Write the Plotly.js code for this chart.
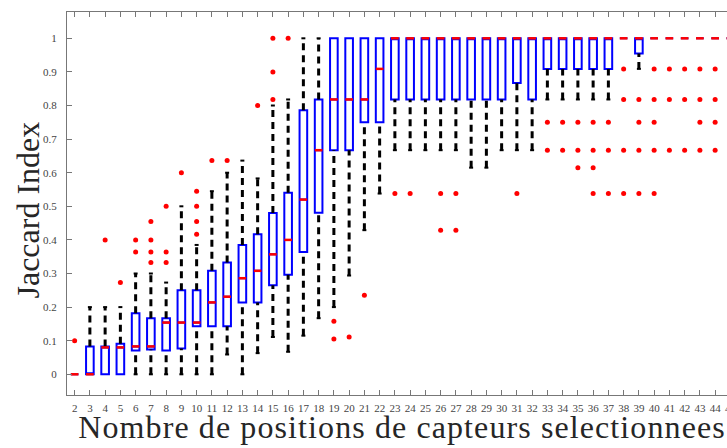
<!DOCTYPE html>
<html>
<head>
<meta charset="utf-8">
<script src="https://cdn.plot.ly/plotly-3.0.1.min.js"></script>
<style>
html,body{margin:0;padding:0;overflow:hidden;background:#fff;width:727px;height:448px;}
#chart{width:748px;height:448px;}
</style>
</head>
<body>
<div id="chart"></div>
<script>
// Number of selected sensor positions (categories)
const categories = [2,3,4,5,6,7,8,9,10,11,12,13,14,15,16,17,18,19,20,21,22,23,24,25,26,27,28,29,30,31,32,33,34,35,36,37,38,39,40,41,42,43,44,45];
// Box statistics per category
const q1Values = [0,0,0,0,0.071,0.074,0.071,0.077,0.143,0.143,0.143,0.214,0.214,0.265,0.296,0.364,0.481,0.667,0.667,0.75,0.75,0.818,0.818,0.818,0.818,0.818,0.818,0.818,0.818,0.867,0.818,0.909,0.909,0.909,0.909,0.909,1,0.955,1,1,1,1,1,1];
const medianValues = [0,0,0.08,0.08,0.083,0.083,0.154,0.154,0.154,0.214,0.231,0.286,0.308,0.357,0.4,0.52,0.667,0.818,0.818,0.818,0.909,1,1,1,1,1,1,1,1,1,1,1,1,1,1,1,1,1,1,1,1,1,1,1];
const q3Values = [0,0.083,0.083,0.091,0.182,0.167,0.167,0.25,0.25,0.308,0.333,0.385,0.417,0.48,0.54,0.786,0.818,1,1,1,1,1,1,1,1,1,1,1,1,1,1,1,1,1,1,1,1,1,1,1,1,1,1,1];
const lowerWhisker = [0,0,0,0,0,0,0,0,0,0,0.059,0,0.063,0.111,0.067,0.115,0.167,0.2,0.294,0.429,0.538,0.667,0.667,0.667,0.667,0.667,0.615,0.615,0.667,0.667,0.667,0.818,0.818,0.818,0.818,0.818,1,0.909,1,1,1,1,1,1];
const upperWhisker = [0,0.2,0.2,0.2,0.3,0.3,0.273,0.5,0.385,0.545,0.6,0.636,0.583,0.8,0.818,1,1,1,1,1,1,1,1,1,1,1,1,1,1,1,1,1,1,1,1,1,1,1,1,1,1,1,1,1];
// Outliers per category (same order as categories)
const outliers = [
  [0.1],[],[0.4],[0.273],[0.364,0.4],[0.333,0.364,0.4,0.455],[0.333,0.364,0.5],[0.6],
  [0.417,0.455,0.5,0.545],[0.636],[0.636],[],[0.8],[0.818,0.9,1.0],[1.0],[],[],
  [0.158,0.105],[0.111],[0.235],[],[0.538],[0.538],[],[0.538,0.429],[0.538,0.429],
  [],[],[],[0.538],[],[0.75,0.667],[0.75,0.667],[0.75,0.667,0.615],[0.75,0.667,0.615,0.538],
  [0.75,0.667,0.538],[0.909,0.818,0.667,0.538],[0.818,0.75,0.667,0.538],
  [0.909,0.818,0.75,0.667,0.538],[0.909,0.818,0.667],[0.909,0.818,0.667],
  [0.909,0.818,0.75,0.667],[0.909,0.818,0.75,0.667],[0.909,0.818,0.75,0.667]
];
const xTickLabels = categories.map(String);
const yTickValues = [0,0.1,0.2,0.3,0.4,0.5,0.6,0.7,0.8,0.9,1];
const yTickLabels = ['0','0.1','0.2','0.3','0.4','0.5','0.6','0.7','0.8','0.9','1'];
const xTitle = 'Nombre de positions de capteurs selectionnees';
const yTitle = 'Jaccard Index';

const BOXW = 0.5, CAPW = 0.13;
const wx = [], wy = [], cx = [], cy = [], mx = [], my = [], ox = [], oy = [];
categories.forEach((c, i) => {
  if (upperWhisker[i] > q3Values[i]) {
    wx.push(c, c, null); wy.push(q3Values[i], upperWhisker[i], null);
    cx.push(c - CAPW, c + CAPW, null); cy.push(upperWhisker[i], upperWhisker[i], null);
  }
  if (lowerWhisker[i] < q1Values[i]) {
    wx.push(c, c, null); wy.push(lowerWhisker[i], q1Values[i], null);
    cx.push(c - CAPW, c + CAPW, null); cy.push(lowerWhisker[i], lowerWhisker[i], null);
  }
  mx.push(c - BOXW / 2, c + BOXW / 2, null); my.push(medianValues[i], medianValues[i], null);
  outliers[i].forEach(v => { ox.push(c); oy.push(v); });
});

const traces = [
  {
    type: 'box', x: categories, q1: q1Values, median: medianValues, q3: q3Values,
    lowerfence: q1Values, upperfence: q3Values, width: BOXW, boxpoints: false,
    line: {color: '#0000ff', width: 2}, fillcolor: 'rgba(0,0,0,0)',
    hoverinfo: 'skip', showlegend: false
  },
  {
    type: 'scatter', mode: 'lines', x: wx, y: wy, showlegend: false, hoverinfo: 'skip',
    line: {color: '#000000', width: 3, dash: '7px,5px'}
  },
  {
    type: 'scatter', mode: 'lines', x: cx, y: cy, showlegend: false, hoverinfo: 'skip',
    line: {color: '#000000', width: 2}
  },
  {
    type: 'scatter', mode: 'lines', x: mx, y: my, showlegend: false, hoverinfo: 'skip',
    line: {color: '#ff0000', width: 2.5}
  },
  {
    type: 'scatter', mode: 'markers', x: ox, y: oy, showlegend: false, hoverinfo: 'skip',
    marker: {color: '#ff0000', size: 5, symbol: 'circle'}
  }
];

const serif = 'Liberation Serif, Times New Roman, serif';
const axisFont = {family: serif, size: 11, color: '#444'};
const layout = {
  width: 748, height: 448,
  margin: {l: 67, r: 10, t: 12, b: 53},
  paper_bgcolor: '#ffffff', plot_bgcolor: '#ffffff',
  showlegend: false,
  xaxis: {
    range: [1.5, 45.5], tickmode: 'array', tickvals: categories, ticktext: xTickLabels,
    ticks: 'inside', ticklen: 5, tickcolor: '#777', tickwidth: 1,
    showline: true, linecolor: '#777', linewidth: 1, mirror: 'ticks',
    showgrid: false, zeroline: false, tickfont: axisFont, ticklabelstandoff: 3,
    title: {text: ''}
  },
  yaxis: {
    range: [-0.0616, 1.0783], tickmode: 'array', tickvals: yTickValues, ticktext: yTickLabels,
    ticks: 'inside', ticklen: 5, tickcolor: '#777', tickwidth: 1,
    showline: true, linecolor: '#777', linewidth: 1, mirror: 'ticks',
    showgrid: false, zeroline: false, tickfont: axisFont, ticklabelstandoff: 7,
    title: {text: ''}
  },
  annotations: [
    {text: xTitle, xref: 'paper', yref: 'paper', x: 0.5, y: 0, xanchor: 'center', yanchor: 'middle',
     yshift: -32, xshift: -1, showarrow: false, font: {family: serif, size: 32, color: '#262626'}},
    {text: yTitle, xref: 'paper', yref: 'paper', x: 0, y: 0.5, xanchor: 'center', yanchor: 'middle',
     xshift: -40, yshift: -7, textangle: -90, showarrow: false,
     font: {family: serif, size: 32, color: '#262626'}}
  ]
};

Plotly.newPlot('chart', traces, layout, {staticPlot: true, displayModeBar: false}).then(() => {
  const t = document.querySelectorAll('.annotation-text');
  if (t.length) t[0].style.letterSpacing = '1.1px';
});
</script>
</body>
</html>
